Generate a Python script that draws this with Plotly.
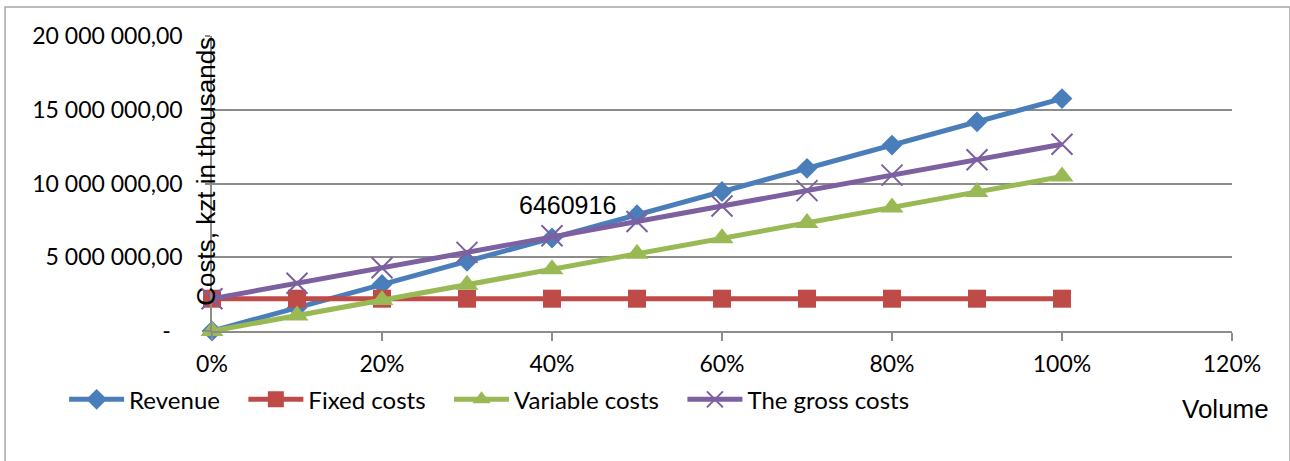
import plotly.graph_objects as go

# Production volume (share of capacity)
volume = [0.0, 0.1, 0.2, 0.3, 0.4, 0.5, 0.6, 0.7, 0.8, 0.9, 1.0]

# Values, kzt in thousands
revenue = [0, 1576000, 3152000, 4728000, 6304000, 7880000, 9456000,
           11032000, 12608000, 14184000, 15760000]
fixed_costs = [2190000, 2190000, 2190000, 2190000, 2190000, 2190000,
               2190000, 2190000, 2190000, 2190000, 2190000]
variable_costs = [0, 1047000, 2094000, 3141000, 4188000, 5235000, 6282000,
                  7329000, 8376000, 9423000, 10470000]
gross_costs = [2190000, 3237000, 4284000, 5331000, 6460916, 7425000, 8472000,
               9519000, 10566000, 11613000, 12660000]

break_even_value = 6460916
break_even_volume = 0.4

y_tickvals = [0, 5000000, 10000000, 15000000, 20000000]
y_ticktext = ["-\u00a0\u00a0", "5 000 000,00", "10 000 000,00",
              "15 000 000,00", "20 000 000,00"]
x_tickvals = [0, 0.2, 0.4, 0.6, 0.8, 1.0, 1.2]
x_ticktext = ["0%", "20%", "40%", "60%", "80%", "100%", "120%"]

TICK_FONT = dict(family="Lato, Calibri, sans-serif", size=23, color="#000000")
TITLE_FONT = dict(family="Liberation Sans, Arial, sans-serif", size=26, color="#000000")
GRID = "#8c8c8c"
PAD = "\u00a0\u00a0\u00a0"  # extra room after each legend entry

fig = go.Figure()

series = [
    ("Revenue", revenue, "#4a7ebb", dict(symbol="diamond", size=16)),
    ("Fixed costs", fixed_costs, "#be4b48", dict(symbol="square", size=18)),
    ("Variable costs", variable_costs, "#98b954", dict(symbol="triangle-up", size=20)),
    ("The gross costs", gross_costs, "#7d60a0",
     dict(symbol="x-thin", size=21, line=dict(width=2, color="#7d60a0"))),
]

for name, vals, color, marker in series:
    fig.add_trace(go.Scatter(
        x=volume, y=vals, name=name + PAD, mode="lines+markers",
        line=dict(color=color, width=5),
        marker=dict(color=color, **marker),
        cliponaxis=False,
    ))

fig.add_annotation(
    x=break_even_volume, y=break_even_value, text=str(break_even_value),
    showarrow=False, xshift=15, yshift=31,
    font=dict(family="Liberation Sans, Arial, sans-serif", size=25, color="#000000"),
)

fig.add_annotation(
    xref="paper", yref="paper", x=-0.006, y=0.543, text="Costs, kzt in thousands",
    textangle=-90, showarrow=False, font=TITLE_FONT,
    xanchor="center", yanchor="middle",
)
fig.add_annotation(
    xref="paper", yref="paper", x=0.994, y=-0.263, text="Volume",
    showarrow=False, font=TITLE_FONT, xanchor="center", yanchor="middle",
)

# Outer chart frame
fig.add_shape(
    type="rect", xref="paper", yref="paper",
    x0=-0.2029, x1=1.0569, y0=-0.5, y1=1.098,
    line=dict(color="#a6a6a6", width=1.5), fillcolor="rgba(0,0,0,0)", layer="below",
)

fig.update_layout(
    width=1290, height=461,
    margin=dict(l=212, r=58, t=36, b=130),
    paper_bgcolor="#ffffff", plot_bgcolor="#ffffff",
    showlegend=True,
    legend=dict(
        orientation="h", x=-0.145, y=-0.233, xanchor="left", yanchor="middle",
        font=dict(family="Lato, Calibri, sans-serif", size=24, color="#000000"),
        itemwidth=55, tracegroupgap=0, bgcolor="rgba(0,0,0,0)",
    ),
    xaxis=dict(
        range=[0, 1.2], tickvals=x_tickvals, ticktext=x_ticktext,
        showgrid=False, zeroline=False,
        showline=True, linecolor=GRID, linewidth=1.5,
        ticks="outside", ticklen=8, tickcolor=GRID, tickwidth=1.5,
        tickfont=TICK_FONT, ticklabelstandoff=4,
    ),
    yaxis=dict(
        range=[0, 20000000], tickvals=y_tickvals, ticktext=y_ticktext,
        showgrid=True, gridcolor=GRID, gridwidth=1.5, zeroline=False,
        showline=True, linecolor=GRID, linewidth=1.5,
        ticks="outside", ticklen=5, tickcolor=GRID, tickwidth=1.5,
        tickfont=TICK_FONT, ticklabelstandoff=18,
    ),
)

fig.write_html("out.html")
